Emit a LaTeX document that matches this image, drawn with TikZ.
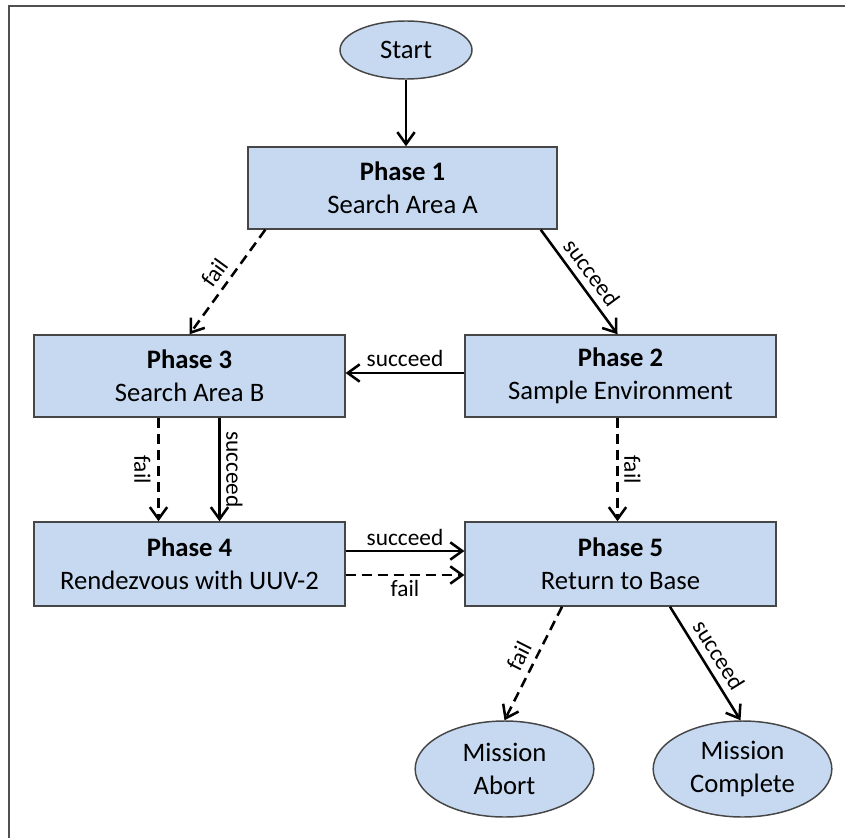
\documentclass[tikz,border=0pt]{standalone}
\usepackage{fontspec}
\setmainfont{Carlito}
\usetikzlibrary{arrows.meta,calc,shapes.geometric}
\definecolor{boxfill}{RGB}{198,217,241}
\definecolor{boxline}{RGB}{70,70,70}
\definecolor{framecol}{RGB}{80,80,80}
\begin{document}
\begin{tikzpicture}[x=0.75pt,y=-0.75pt,
  phasebox/.style={draw=boxline,line width=1.1pt,fill=boxfill,rectangle,
    minimum width=233pt,minimum height=61.5pt,inner sep=0pt,align=center,
    font=\fontsize{20}{24.75}\selectfont},
  endnode/.style={draw=boxline,line width=1.1pt,fill=boxfill,ellipse,
    inner sep=0pt,align=center,font=\fontsize{20}{24.75}\selectfont},
  conn/.style={line width=1.9pt,-{Straight Barb[length=9pt,width=13pt,line width=1.9pt]}},
  failconn/.style={conn,dash pattern=on 7.5pt off 4.5pt},
  lbl/.style={font=\fontsize{17.5}{20}\selectfont,inner sep=3pt},
  slbl/.style={lbl,sloped,above,inner sep=5pt}]
\useasboundingbox (0,0) rectangle (845,838);
\draw[framecol,line width=2pt] (9,838) -- (9,6) -- (845,6);

\node[endnode,minimum width=99pt,minimum height=43.5pt] (start) at (406,50) {Start};
\node[phasebox,minimum width=231.75pt] (p1) at (402.5,188) {\textbf{Phase 1}\\Search Area A};
\node[phasebox] (p3) at (189.5,376) {\textbf{Phase 3}\\Search Area B};
\node[phasebox] (p2) at (620.5,376) {\textbf{Phase 2}\\Sample Environment};
\node[phasebox,minimum height=63pt] (p4) at (189.5,564) {\textbf{Phase 4}\\Rendezvous with UUV-2};
\node[phasebox,minimum height=63pt] (p5) at (620.5,564) {\textbf{Phase 5}\\Return to Base};
\node[endnode,minimum width=134pt,minimum height=72pt] (abort) at (504.5,769) {Mission\\Abort};
\node[endnode,minimum width=134pt,minimum height=72pt] (done) at (742.5,769) {Mission\\Complete};

\draw[conn] (start.south) -- (start.south |- p1.north);
\draw[failconn] ($(p1.south west)+(18,0)$) -- node[slbl] {fail} (p3.north);
\draw[conn] ($(p1.south east)+(-17,0)$) -- node[slbl] {succeed} ($(p2.north)+(-3,0)$);
\draw[conn] ($(p2.west)+(0,-3)$) -- node[lbl,above,yshift=1pt] {succeed} ($(p3.east)+(0,-3)$);
\draw[failconn] ($(p3.south)+(-31,0)$) -- node[lbl,rotate=-90,below,inner sep=5pt] {fail} ($(p4.north)+(-31,0)$);
\draw[conn] ($(p3.south)+(30,0)$) -- node[lbl,rotate=-90,above,inner sep=4pt] {succeed} ($(p4.north)+(30,0)$);
\draw[failconn] ($(p2.south)+(-3,0)$) -- node[lbl,rotate=-90,above,inner sep=4pt] {fail} ($(p5.north)+(-3,0)$);
\draw[conn] ($(p4.east)+(0,-13)$) -- node[lbl,above] {succeed} ($(p5.west)+(0,-13)$);
\draw[failconn] ($(p4.east)+(0,11)$) -- node[lbl,below] {fail} ($(p5.west)+(0,11)$);
\draw[failconn] ($(p5.south)+(-58.5,0)$) -- node[slbl] {fail} (abort.north);
\draw[conn] ($(p5.south)+(49.5,0)$) -- node[slbl] {succeed} ($(done.north)+(-2,0)$);
\end{tikzpicture}
\end{document}
